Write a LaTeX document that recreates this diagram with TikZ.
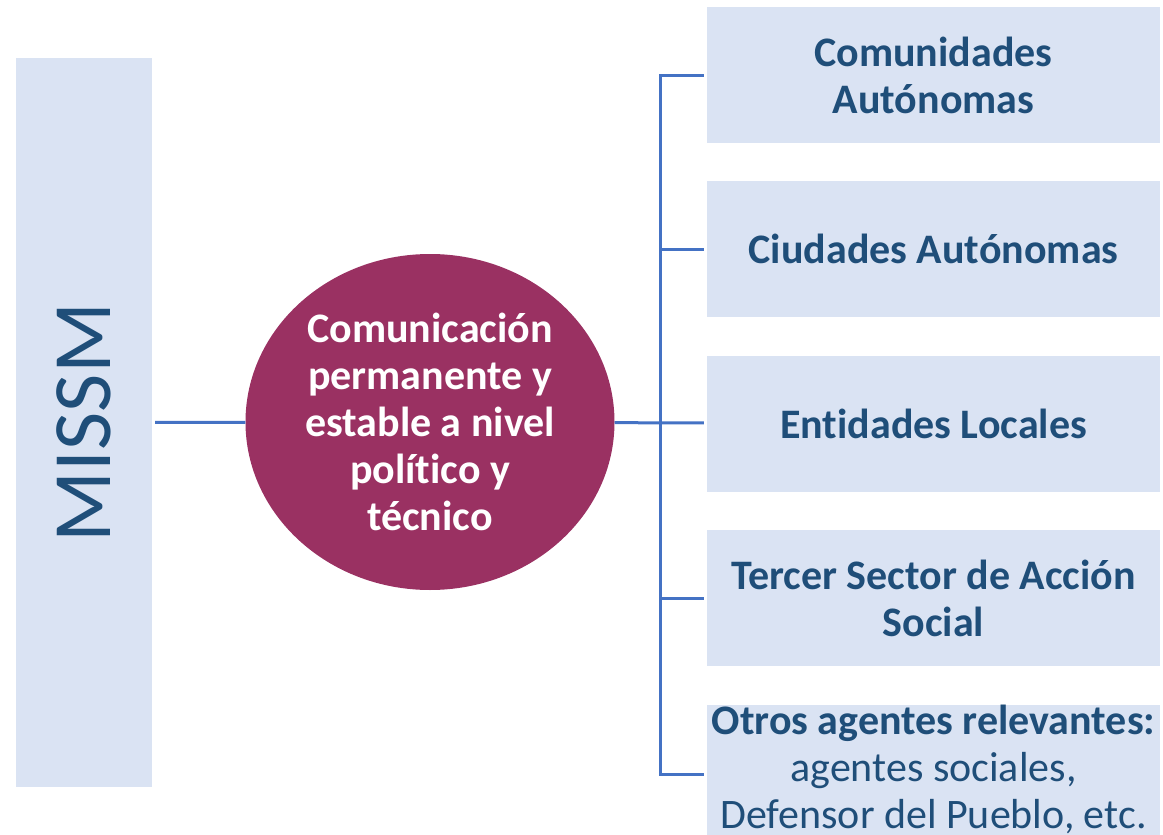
\documentclass[tikz,border=0pt]{standalone}
\usepackage{fontspec}
\setmainfont{Carlito}[Ligatures={NoCommon,NoRequired,NoContextual},Contextuals=NoAlternate]
\usetikzlibrary{positioning,shapes.geometric}
\definecolor{boxfill}{HTML}{DAE3F3}
\definecolor{textblue}{HTML}{1F4E79}
\definecolor{linkblue}{HTML}{4472C4}
\definecolor{circfill}{HTML}{9A3162}
\begin{document}
\begin{tikzpicture}[x=1pt,y=-1pt]
  \def\bw{453pt}   % width agent boxes
  \def\bh{136pt}   % height agent boxes
  \def\gap{38pt}   % spacing agent boxes
  \def\fs{\fontsize{42}{47}\selectfont}

  \tikzstyle{agent}=[rectangle,fill=boxfill,minimum width=\bw,minimum height=\bh,
    inner sep=0pt,align=center,text=textblue,font=\fs\bfseries]
  \tikzstyle{link}=[linkblue,line width=3pt]

  \useasboundingbox (0,0) rectangle (1163,835);

  % LEFT PANEL
  \node[rectangle,fill=boxfill,rotate=90,minimum width=729pt,minimum height=136pt,
    inner sep=0pt,text=textblue,font=\fontsize{83}{90}\selectfont] (missm) at (84,422.5) {MISSM};

  % CENTRAL ELLIPSE
  \node[ellipse,fill=circfill,minimum width=369pt,minimum height=336pt,inner sep=0pt,
    align=center,text=white,font=\fs\bfseries] (comm) at (430,422)
    {Comunicación\\permanente y\\estable a nivel\\político y\\técnico};

  % AGENT BOXES
  \node[agent] (ccaa) at (933.5,75) {Comunidades\\Autónomas};
  \node[agent,below=\gap of ccaa] (ciud) {Ciudades Autónomas};
  \node[agent,below=\gap of ciud] (entl) {Entidades Locales};
  \node[agent,below=\gap of entl] (terc) {Tercer Sector de Acción\\Social};
  \node[agent,below=\gap of terc,text depth=16pt] (otros)
    {Otros agentes relevantes:\\\mdseries agentes sociales,\\\mdseries Defensor del Pueblo, etc.};

  % CONNECTORS
  \coordinate (bus) at (660,0);
  \draw[link,shorten <=3pt] (missm) -- (comm);
  \draw[link,shorten >=3pt] (comm) -- (entl);
  \draw[link,shorten <=3pt,shorten >=3pt] (ccaa.west) -| (bus |- otros.west) -- (otros.west);
  \foreach \b in {ciud,terc}
    \draw[link,shorten >=3pt] (\b.west -| bus) -- (\b.west);
\end{tikzpicture}
\end{document}
